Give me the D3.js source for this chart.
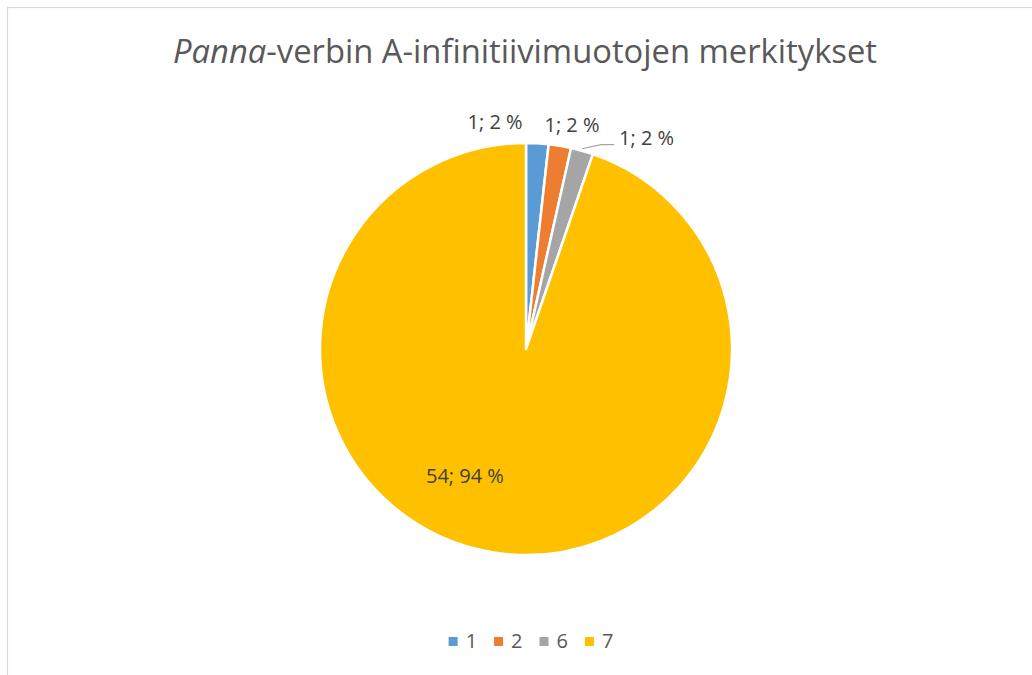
<!DOCTYPE html>
<html>
<head>
<meta charset="utf-8">
<script src="https://cdn.jsdelivr.net/npm/d3@7"></script>
<style>
  html, body { margin: 0; padding: 0; background: #fff; }
  svg { display: block; }
</style>
</head>
<body>
<svg id="chart" width="1032" height="675"></svg>
<script>
// ---- data ----
const categories = ["1", "2", "6", "7"];
const values = [1, 1, 1, 54];
const colors = ["#5B9BD5", "#ED7D31", "#A5A5A5", "#FFC000"];
const titleItalic = "Panna";
const titleRest = "-verbin A-infinitiivimuotojen merkitykset";

// ---- layout ----
const W = 1032, H = 675;
const cx = 526, cy = 349, R = 206;
const svg = d3.select("#chart");
const font = "'Open Sans', 'Noto Sans', sans-serif";

// chart border
svg.append("rect")
  .attr("x", 7.5).attr("y", 7.5)
  .attr("width", 1100).attr("height", 1100)
  .attr("fill", "#fff")
  .attr("stroke", "#d9d9d9").attr("stroke-width", 1.2);

// title
const title = svg.append("text")
  .attr("x", 173).attr("y", 63)
  .attr("font-family", font)
  .attr("font-size", 32)
  .attr("fill", "#595959");
title.append("tspan").attr("font-style", "italic").text(titleItalic);
title.append("tspan").text(titleRest);
title.attr("textLength", 704).attr("lengthAdjust", "spacingAndGlyphs");

// percentages (largest remainder so they sum to 100, as Excel shows)
const total = d3.sum(values);
const raw = values.map(v => v / total * 100);
const pct = raw.map(Math.floor);
let rest = 100 - d3.sum(pct);
d3.range(values.length)
  .sort((a, b) => (raw[b] - pct[b]) - (raw[a] - pct[a]))
  .forEach(i => { if (rest > 0) { pct[i] += 1; rest -= 1; } });

// pie
const pie = d3.pie().sort(null).value(d => d);
const arcs = pie(values);
const arc = d3.arc().innerRadius(0).outerRadius(R);
const g = svg.append("g").attr("transform", `translate(${cx},${cy})`);

g.selectAll("path.slice")
  .data(arcs)
  .join("path")
  .attr("class", "slice")
  .attr("d", arc)
  .attr("fill", (d, i) => colors[i])
  .attr("stroke", "#fff")
  .attr("stroke-width", 2.5)
  .attr("stroke-linejoin", "round");

// labels
const fmt = (v, i) => `${v}; ${pct[i]} %`;
const pointAt = (a, r) => [r * Math.sin(a), -r * Math.cos(a)];
const labelG = svg.append("g").attr("transform", `translate(${cx},${cy})`);

arcs.forEach((d, i) => {
  const mid = (d.startAngle + d.endAngle) / 2;
  const share = d.value / total;
  let x, y, anchor;
  if (share > 0.1) {
    const c = pointAt(mid, 128);
    x = c[0] - 40; y = c[1] + 8; anchor = "middle";
  } else {
    const p = pointAt(mid, 228);
    if (i === 0) { x = p[0] - 16; y = p[1] + 8; anchor = "end"; }
    else if (i === 1) { x = p[0] + 8.5; y = p[1] + 8; anchor = "middle"; }
    else {
      const e = pointAt(mid, 206);
      x = e[0] + 37; y = p[1] + 15; anchor = "start";
      labelG.append("polyline")
        .attr("points", [[e[0], e[1] - 2], [e[0] + 19, y], [e[0] + 32, y]].map(q => q.join(",")).join(" "))
        .attr("fill", "none")
        .attr("stroke", "#a6a6a6")
        .attr("stroke-width", 1.2);
    }
  }
  labelG.append("text")
    .attr("x", x).attr("y", y)
    .attr("text-anchor", anchor)
    .attr("font-family", font)
    .attr("font-size", 20)
    .attr("fill", "#404040")
    .text(fmt(d.value, i));
});

// legend
const legend = svg.append("g");
const items = legend.selectAll("g.item").data(categories).join("g").attr("class", "item");
items.append("rect")
  .attr("width", 9).attr("height", 9)
  .attr("y", 637)
  .attr("fill", (d, i) => colors[i]);
items.append("text")
  .attr("x", 17).attr("y", 648)
  .attr("font-family", font)
  .attr("font-size", 20)
  .attr("fill", "#595959")
  .text(d => d);
let xCur = 0;
const positions = [];
items.each(function () {
  const tw = this.querySelector("text").getComputedTextLength();
  positions.push(xCur);
  xCur += 17 + tw + 17;
});
const legendWidth = xCur - 17;
const startX = 531 - legendWidth / 2;
items.attr("transform", (d, i) => `translate(${startX + positions[i]},0)`);
</script>
</body>
</html>
